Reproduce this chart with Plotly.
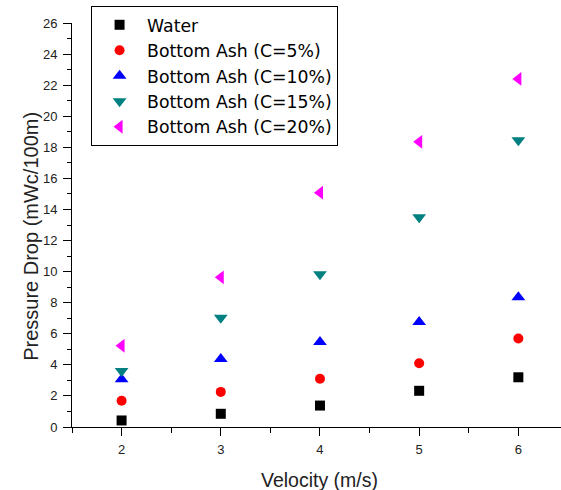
import plotly.graph_objects as go

velocity = [2, 3, 4, 5, 6]
water = [0.42, 0.85, 1.38, 2.33, 3.2]
ash5 = [1.69, 2.26, 3.1, 4.1, 5.7]
ash10 = [3.08, 4.38, 5.47, 6.75, 8.35]
ash15 = [3.6, 7.03, 9.83, 13.5, 18.46]
ash20 = [5.23, 9.63, 15.08, 18.35, 22.4]

series = [
    ("Water", water, "square", "#000000", 10),
    ("Bottom Ash (C=5%)", ash5, "circle", "#FF0000", 10),
    ("Bottom Ash (C=10%)", ash10, "triangle-up", "#0000FF", 12),
    ("Bottom Ash (C=15%)", ash15, "triangle-down", "#008080", 12),
    ("Bottom Ash (C=20%)", ash20, "triangle-left", "#FF00FF", 12),
]

fig = go.Figure()
for name, ys, sym, col, sz in series:
    fig.add_trace(go.Scatter(
        x=velocity, y=ys, mode="markers", name=name,
        marker=dict(symbol=sym, color=col, size=sz, line=dict(width=0)),
        cliponaxis=False,
    ))

font = "Arial, Liberation Sans, sans-serif"
fig.update_layout(
    width=561, height=490,
    margin=dict(l=72, r=0, t=23, b=63),
    paper_bgcolor="white", plot_bgcolor="white",
    font=dict(family=font, color="#000000"),
    showlegend=True,
    legend=dict(
        x=0.039, y=1.042, xanchor="left", yanchor="top",
        bordercolor="#000000", borderwidth=1, bgcolor="white",
        font=dict(size=17.3, family="DejaVu Sans, sans-serif", color="#000000"),
        itemwidth=45,
    ),
    xaxis=dict(
        range=[1.5, 6.43], tickvals=velocity, ticktext=[str(v) for v in velocity],
        showgrid=False, zeroline=False, showline=True, linecolor="#000000", linewidth=1,
        ticks="outside", ticklen=8, tickwidth=1, tickcolor="#000000",
        minor=dict(dtick=0.5, tick0=1.5, ticks="outside", ticklen=5, tickcolor="#000000", showgrid=False),
        tickfont=dict(size=13, color="#222222"),
        ticklabelstandoff=2,
    ),
    yaxis=dict(
        range=[0, 26], dtick=2, tick0=0,
        showgrid=False, zeroline=False, showline=True, linecolor="#000000", linewidth=1,
        ticks="outside", ticklen=8, tickwidth=1, tickcolor="#000000",
        minor=dict(dtick=1, ticks="outside", ticklen=4, tickcolor="#000000", showgrid=False),
        tickfont=dict(size=13, color="#222222"),
        ticklabelstandoff=3,
    ),
    annotations=[
        dict(text="Velocity (m/s)", xref="paper", yref="paper", x=0.507, y=-0.130,
             xanchor="center", yanchor="middle", showarrow=False,
             font=dict(size=19.5, family=font, color="#222222")),
        dict(text="Pressure Drop (mWc/100m)", xref="paper", yref="paper", x=-0.084, y=0.473,
             xanchor="center", yanchor="middle", showarrow=False, textangle=-90,
             font=dict(size=20, family=font, color="#222222")),
    ],
)

fig.write_html("out.html")
